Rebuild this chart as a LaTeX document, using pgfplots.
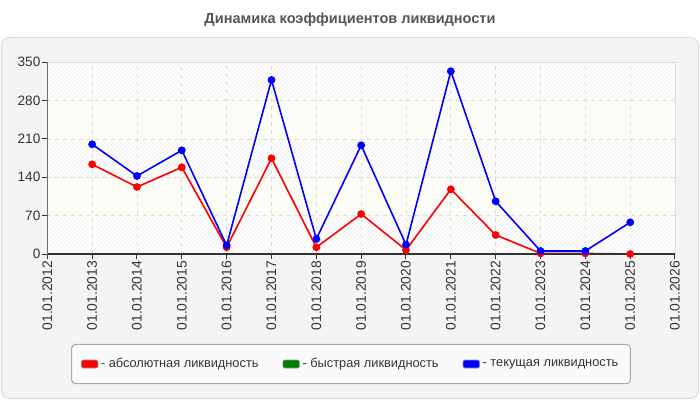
\documentclass[border=0pt]{standalone}
\usepackage{fontspec}
\setmainfont{Liberation Sans}
\usepackage{pgfplots}
\pgfplotsset{compat=1.18}
\usetikzlibrary{patterns}
\definecolor{panel}{HTML}{F4F4F4}
\definecolor{panelborder}{HTML}{DCDCDC}
\definecolor{titlec}{HTML}{555555}
\definecolor{axisc}{HTML}{333333}
\definecolor{gridc}{HTML}{DDDDDD}
\definecolor{cream}{HTML}{FDFDF8}
\definecolor{hatch}{HTML}{EDEDED}
\definecolor{lred}{HTML}{FF0000}
\definecolor{lblue}{HTML}{0000FF}
\definecolor{lgreen}{HTML}{008000}
\definecolor{legfill}{HTML}{FAFAFA}
\definecolor{legborder}{HTML}{AAAAAA}
\pgfplotstableread{
x abs cur
2013 163.7 200.3
2014 122.3 142.4
2015 158.3 189.3
2016 12.2 15.8
2017 174.7 317.7
2018 12.2 27.4
2019 73.0 198.4
2020 7.3 17.0
2021 118.1 333.6
2022 34.7 96.2
2023 1.2 5.5
2024 1.0 5.5
2025 0.0 57.8
}\liq
\begin{document}
\begin{tikzpicture}
\begin{scope}[x=0.75pt,y=0.75pt]
\useasboundingbox (0,0) rectangle (700,400);
\fill[white] (0,0) rectangle (700,400);
\filldraw[fill=panel,draw=panelborder,line width=0.75pt,rounded corners=6pt] (1.5,1.5) rectangle (698.5,362.5);
\node[font=\bfseries\fontsize{10.9pt}{13pt}\selectfont,text=titlec] at (350,380) {Динамика коэффициентов ликвидности};
% plot-area background bands (decoration only)
\fill[white] (47.3,146) rectangle (675,337.7);
\fill[pattern=north east lines,pattern color=hatch] (47.3,146) rectangle (675,184.34);
\fill[cream] (47.3,184.34) rectangle (675,222.68);
\fill[pattern=north east lines,pattern color=hatch] (47.3,222.68) rectangle (675,261.02);
\fill[cream] (47.3,261.02) rectangle (675,299.36);
\fill[pattern=north east lines,pattern color=hatch] (47.3,299.36) rectangle (675,337.7);
\end{scope}
\begin{axis}[
  at={(35.475pt,109.5pt)}, anchor=south west,
  scale only axis,
  width=470.8pt, height=143.8pt,
  xmin=2012, xmax=2026, ymin=0, ymax=350,
  xtick={2012,...,2026},
  xticklabels={01.01.2012,01.01.2013,01.01.2014,01.01.2015,01.01.2016,01.01.2017,01.01.2018,01.01.2019,01.01.2020,01.01.2021,01.01.2022,01.01.2023,01.01.2024,01.01.2025,01.01.2026},
  ytick={0,70,140,210,280,350},
  xticklabel style={rotate=90,anchor=east,font=\fontsize{10.4pt}{11pt}\selectfont,text=axisc,inner sep=1pt},
  yticklabel style={font=\fontsize{10.2pt}{11pt}\selectfont,text=axisc,inner sep=1pt},
  /pgf/number format/assume math mode=true,
  /pgf/number format/1000 sep={},
  xtick pos=left, ytick pos=left,
  tick align=outside,
  major tick length=4pt,
  tick style={axisc,line width=0.75pt},
  axis line style={gridc,line width=0.75pt},
  grid=major,
  major grid style={gridc,dashed,line width=0.6pt},
  legend style={at={(0.4838,-0.574)},anchor=center,draw=legborder,fill=legfill,rounded corners=3pt,
    font=\fontsize{9.6pt}{11pt}\selectfont,text=axisc,
    inner xsep=7pt,inner ysep=8.5pt,line width=0.75pt,
    /tikz/every even column/.append style={column sep=16pt}},
  legend columns=3,
  legend cell align=left,
  legend image code/.code={\filldraw[rounded corners=1.5pt,draw=black!40,line width=0.5pt,solid] (0pt,-3pt) rectangle (12.5pt,3pt);},
]
\addplot[color=lred,line width=1.2pt,mark=*,mark size=2.3pt] table[x=x,y=abs] {\liq};
\addlegendentry{- абсолютная ликвидность}
\addlegendimage{color=lgreen}
\addlegendentry{- быстрая ликвидность}
\addplot[color=lblue,line width=1.2pt,mark=*,mark size=2.3pt] table[x=x,y=cur] {\liq};
\addlegendentry{- текущая ликвидность}
\draw[axisc,line width=0.9pt] (rel axis cs:0,1) -- (rel axis cs:0,0) -- (rel axis cs:1,0);
\end{axis}
\end{tikzpicture}
\end{document}
